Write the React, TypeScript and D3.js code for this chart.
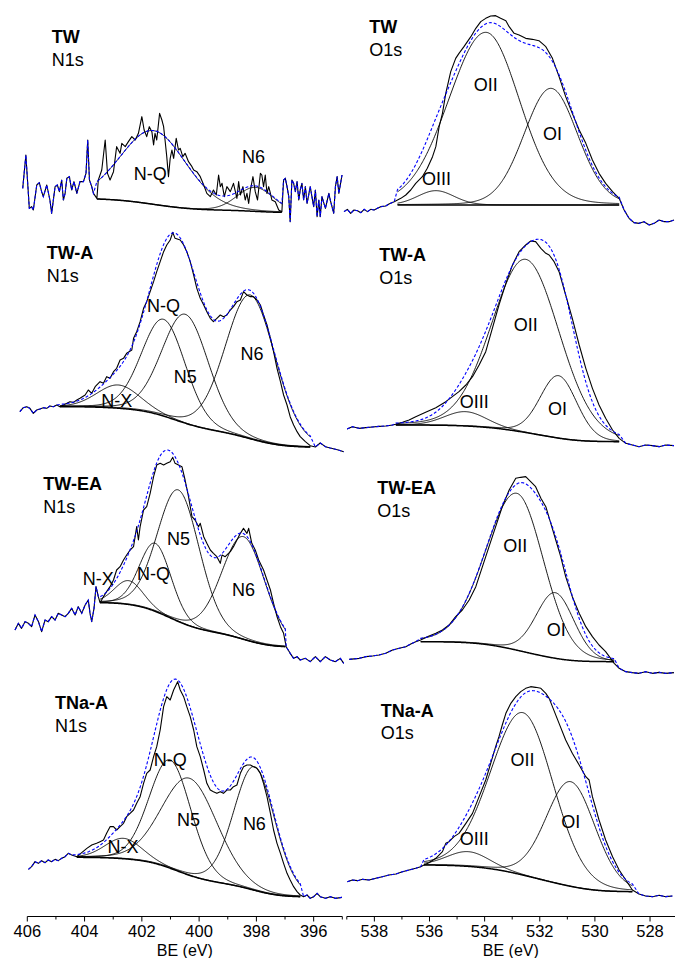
import React from "react";
import * as d3 from "d3";

type Pt = [number, number];
type Peak = { c: number; top: number; w: number; wh?: number };
type Lbl = [string, number, number];

// ---------------- axis ticks ----------------
const nMajorTicks = [406, 404, 402, 400, 398, 396];
const nMinorTicks = [405, 403, 401, 399, 397, 395];
const oMajorTicks = [538, 536, 534, 532, 530, 528];
const oMinorTicks = [539, 537, 535, 533, 531, 529, 527];
const axisTitle = "BE (eV)";

// ---------------- TW N1s ----------------
const twN1sRaw: Pt[] = [
  [406.16, 135], [406.05, 235], [405.93, 75], [405.85, 80], [405.79, 70], [405.67, 145], [405.58, 152], [405.5, 125],
  [405.44, 110], [405.32, 145], [405.21, 100], [405.15, 60], [405.03, 140], [404.95, 145], [404.88, 125], [404.8, 160],
  [404.74, 100], [404.68, 120], [404.62, 165], [404.53, 170], [404.45, 130], [404.37, 155], [404.27, 120], [404.16, 155],
  [404.04, 155], [403.95, 180], [403.89, 280], [403.83, 160], [403.75, 140], [403.69, 120], [403.57, 105], [403.52, 160],
  [403.4, 190], [403.28, 280], [403.2, 180], [403.11, 160], [402.99, 185], [402.88, 260], [402.76, 240], [402.7, 270],
  [402.58, 260], [402.47, 275], [402.35, 290], [402.23, 280], [402.12, 300], [402.0, 350], [401.92, 310], [401.83, 290],
  [401.74, 320], [401.65, 305], [401.59, 265], [401.54, 300], [401.48, 280], [401.38, 360], [401.3, 340], [401.24, 320],
  [401.19, 280], [401.13, 230], [401.07, 170], [401.01, 225], [400.95, 250], [400.89, 225], [400.8, 285], [400.72, 250],
  [400.66, 255], [400.57, 230], [400.49, 240], [400.37, 215], [400.25, 200], [400.19, 190], [400.08, 185], [399.96, 170],
  [399.84, 145], [399.73, 120], [399.61, 110], [399.5, 130], [399.4, 115], [399.32, 175], [399.26, 140], [399.2, 150],
  [399.12, 110], [399.03, 140], [398.91, 125], [398.8, 150], [398.68, 105], [398.62, 155], [398.56, 115], [398.47, 140],
  [398.39, 100], [398.33, 120], [398.27, 90], [398.21, 130], [398.12, 170], [398.04, 125], [397.96, 100], [397.86, 180],
  [397.81, 175], [397.75, 140], [397.69, 175], [397.63, 120], [397.57, 140], [397.51, 120], [397.46, 100], [397.34, 95],
  [397.22, 70], [397.11, 65], [397.05, 160], [396.99, 165], [396.93, 140], [396.87, 110], [396.82, 35], [396.76, 160],
  [396.7, 150], [396.64, 125], [396.58, 155], [396.52, 100], [396.47, 130], [396.41, 150], [396.35, 100], [396.29, 140],
  [396.23, 90], [396.12, 140], [396.0, 80], [395.94, 130], [395.88, 50], [395.82, 100], [395.77, 50], [395.71, 110],
  [395.59, 75], [395.47, 120], [395.42, 100], [395.3, 60], [395.24, 140], [395.18, 170], [395.12, 120], [395.01, 175],
];
const twN1sRegion: Pt = [403.57, 397.11];
const twN1sBg: Pt = [103, 63];
const twN1sPeaks: Peak[] = [
  { c: 401.59, top: 308, w: 2.7 },
  { c: 398.04, top: 138, w: 1.5 },
];
const twN1sLabels: Lbl[] = [["N-Q", 401.71, 180], ["N6", 398.1, 230]];

// ---------------- TW O1s ----------------
const twO1sRaw: Pt[] = [
  [539.1, 65], [538.98, 72], [538.86, 60], [538.74, 70], [538.61, 68], [538.49, 62], [538.37, 72], [538.25, 65],
  [538.13, 72], [538.01, 70], [537.89, 75], [537.77, 80], [537.59, 82], [537.47, 88], [537.28, 95], [537.16, 100],
  [537.04, 105], [536.86, 115], [536.68, 130], [536.5, 150], [536.26, 170], [536.08, 195], [535.89, 230], [535.77, 260],
  [535.65, 320], [535.53, 360], [535.41, 420], [535.23, 485], [535.05, 525], [534.93, 540], [534.75, 560], [534.5, 590],
  [534.32, 615], [534.14, 635], [533.96, 645], [533.78, 652], [533.6, 653], [533.42, 645], [533.23, 638], [533.11, 620],
  [532.93, 600], [532.75, 595], [532.51, 585], [532.27, 582], [532.03, 578], [531.78, 560], [531.54, 525], [531.3, 470],
  [531.06, 410], [530.82, 360], [530.57, 310], [530.33, 270], [530.09, 220], [529.85, 180], [529.61, 150], [529.36, 125],
  [529.12, 105], [528.94, 70], [528.76, 45], [528.58, 32], [528.4, 30], [528.22, 35], [528.03, 25], [527.85, 30],
  [527.67, 40], [527.49, 35], [527.31, 35], [527.13, 40],
];
const twO1sRegion: Pt = [537.16, 529.12];
const twO1sBg: Pt = [85, 85];
const twO1sPeaks: Peak[] = [
  { c: 535.77, top: 128, w: 1.57 },
  { c: 533.96, top: 603, w: 2.9, wh: 3.2 },
  { c: 531.6, top: 435, w: 2.3 },
];
const twO1sLabels: Lbl[] = [["OIII", 535.75, 165], ["OII", 533.96, 445], ["OI", 531.54, 300]];

// ---------------- TW-A N1s ----------------
const twaN1sRaw: Pt[] = [
  [406.26, 140], [406.14, 152], [406.02, 155], [405.91, 150], [405.79, 135], [405.67, 145], [405.56, 148], [405.44, 152],
  [405.32, 150], [405.21, 157], [405.09, 155], [404.97, 160], [404.86, 155], [404.74, 160], [404.62, 165], [404.51, 170],
  [404.39, 168], [404.27, 175], [404.16, 180], [403.98, 190], [403.87, 205], [403.75, 195], [403.63, 215], [403.46, 230],
  [403.34, 225], [403.23, 245], [403.11, 240], [402.99, 260], [402.88, 270], [402.76, 295], [402.64, 300], [402.53, 315],
  [402.35, 325], [402.29, 360], [402.18, 380], [402.06, 410], [401.94, 450], [401.83, 470], [401.71, 500], [401.59, 530],
  [401.48, 560], [401.36, 590], [401.24, 620], [401.13, 640], [401.01, 655], [400.92, 678], [400.84, 660], [400.66, 655],
  [400.54, 640], [400.43, 620], [400.31, 590], [400.19, 550], [400.08, 510], [399.96, 480], [399.84, 460], [399.73, 440],
  [399.61, 420], [399.5, 410], [399.38, 420], [399.26, 430], [399.15, 425], [399.03, 430], [398.91, 445], [398.8, 455],
  [398.68, 470], [398.56, 475], [398.45, 500], [398.33, 490], [398.21, 485], [398.1, 485], [397.98, 475], [397.86, 460],
  [397.75, 430], [397.63, 400], [397.51, 360], [397.4, 320], [397.28, 270], [397.16, 230], [397.05, 190], [396.93, 160],
  [396.82, 125], [396.7, 100], [396.58, 80], [396.47, 65], [396.29, 50], [396.12, 38], [395.94, 34], [395.77, 46],
  [395.59, 35], [395.42, 31], [395.14, 25], [394.95, 20],
];
const twaN1sRegion: Pt = [404.86, 396.12];
const twaN1sBg: Pt = [155, 34];
const twaN1sPeaks: Peak[] = [
  { c: 402.82, top: 220, w: 1.75 },
  { c: 401.24, top: 417, w: 1.8 },
  { c: 400.48, top: 432, w: 1.92 },
  { c: 398.21, top: 490, w: 2.06 },
];
const twaN1sLabels: Lbl[] = [["N-X", 402.88, 173], ["N-Q", 401.24, 457], ["N5", 400.48, 245], ["N6", 398.15, 315]];

// ---------------- TW-A O1s ----------------
const twaO1sRaw: Pt[] = [
  [538.99, 88], [538.8, 95], [538.55, 90], [538.31, 92], [538.07, 94], [537.83, 96], [537.59, 97], [537.34, 100],
  [537.22, 102], [536.98, 108], [536.74, 115], [536.5, 125], [536.14, 138], [535.77, 152], [535.41, 170], [535.17, 185],
  [534.93, 200], [534.68, 220], [534.44, 245], [534.2, 280], [533.96, 320], [533.72, 390], [533.48, 460], [533.23, 525],
  [532.99, 580], [532.75, 620], [532.51, 640], [532.33, 652], [532.15, 650], [531.96, 630], [531.78, 615], [531.66, 610],
  [531.48, 590], [531.3, 560], [531.18, 525], [531.06, 490], [530.82, 420], [530.57, 340], [530.33, 270], [530.09, 210],
  [529.85, 160], [529.61, 120], [529.36, 85], [529.12, 60], [528.88, 45], [528.64, 40], [528.4, 35], [528.16, 40],
  [527.91, 38], [527.67, 35], [527.43, 40], [527.13, 38],
];
const twaO1sRegion: Pt = [537.22, 529.12];
const twaO1sBg: Pt = [100, 50];
const twaO1sPeaks: Peak[] = [
  { c: 534.69, top: 140, w: 1.8 },
  { c: 532.51, top: 597, w: 2.9 },
  { c: 531.32, top: 248, w: 1.57 },
];
const twaO1sLabels: Lbl[] = [["OIII", 534.38, 170], ["OII", 532.51, 400], ["OI", 531.36, 150]];

// ---------------- TW-EA N1s ----------------
const tweaN1sRaw: Pt[] = [
  [406.43, 130], [406.31, 150], [406.2, 135], [406.08, 155], [405.96, 150], [405.85, 140], [405.73, 175], [405.61, 155],
  [405.5, 125], [405.38, 160], [405.27, 155], [405.15, 170], [405.03, 160], [404.92, 180], [404.8, 175], [404.68, 170],
  [404.57, 180], [404.45, 195], [404.33, 175], [404.22, 200], [404.1, 180], [403.98, 205], [403.87, 220], [403.81, 180],
  [403.75, 155], [403.67, 195], [403.6, 260], [403.52, 230], [403.46, 212], [403.34, 230], [403.23, 245], [403.11, 260],
  [402.99, 280], [402.88, 310], [402.76, 320], [402.64, 340], [402.53, 355], [402.41, 370], [402.29, 380], [402.18, 440],
  [402.12, 400], [402.06, 440], [401.94, 490], [401.83, 500], [401.71, 540], [401.59, 590], [401.48, 625], [401.36, 630],
  [401.24, 625], [401.13, 630], [401.01, 635], [400.92, 648], [400.84, 630], [400.72, 625], [400.6, 620], [400.49, 580],
  [400.37, 530], [400.25, 470], [400.14, 460], [400.02, 440], [399.96, 450], [399.84, 410], [399.73, 390], [399.61, 370],
  [399.5, 360], [399.38, 350], [399.26, 330], [399.2, 355], [399.09, 350], [398.91, 365], [398.8, 380], [398.68, 400],
  [398.56, 420], [398.45, 435], [398.33, 420], [398.27, 435], [398.16, 390], [398.04, 370], [397.92, 340], [397.75, 310],
  [397.63, 280], [397.51, 250], [397.4, 210], [397.28, 170], [397.16, 140], [397.05, 120], [396.96, 80], [396.82, 60],
  [396.7, 45], [396.58, 50], [396.47, 40], [396.29, 45], [396.12, 35], [395.94, 50], [395.77, 35], [395.59, 50],
  [395.42, 40], [395.24, 35], [395.07, 45], [394.95, 30],
];
const tweaN1sRegion: Pt = [403.46, 396.99];
const tweaN1sBg: Pt = [212, 80];
const tweaN1sPeaks: Peak[] = [
  { c: 402.46, top: 278, w: 1.17 },
  { c: 401.53, top: 390, w: 1.3 },
  { c: 400.72, top: 550, w: 1.73 },
  { c: 398.45, top: 410, w: 1.78 },
];
const tweaN1sLabels: Lbl[] = [["N-X", 403.52, 285], ["N-Q", 401.59, 300], ["N5", 400.72, 403], ["N6", 398.45, 252]];

// ---------------- TW-EA O1s ----------------
const tweaO1sRaw: Pt[] = [
  [538.91, 42], [538.55, 45], [538.31, 50], [538.07, 52], [537.83, 55], [537.59, 60], [537.34, 70], [537.1, 75],
  [536.86, 80], [536.68, 88], [536.5, 95], [536.32, 100], [536.08, 110], [535.77, 120], [535.53, 130], [535.29, 145],
  [535.05, 170], [534.81, 190], [534.56, 220], [534.32, 260], [534.08, 320], [533.84, 380], [533.6, 440], [533.36, 500],
  [533.11, 550], [532.87, 585], [532.69, 588], [532.51, 590], [532.33, 575], [532.15, 560], [531.96, 525], [531.78, 500],
  [531.6, 450], [531.42, 400], [531.24, 350], [531.06, 290], [530.82, 230], [530.57, 180], [530.33, 140], [530.09, 110],
  [529.85, 85], [529.61, 65], [529.43, 45], [529.3, 30], [529.12, 15], [528.88, 5], [528.64, 2], [528.4, 0],
  [528.16, 5], [527.91, 0], [527.67, 3], [527.43, 0], [527.13, 2],
];
const tweaO1sRegion: Pt = [536.32, 529.3];
const tweaO1sBg: Pt = [95, 35];
const tweaO1sPeaks: Peak[] = [
  { c: 532.83, top: 540, w: 2.3, wh: 2.65 },
  { c: 531.44, top: 242, w: 1.62 },
];
const tweaO1sLabels: Lbl[] = [["OII", 532.89, 383], ["OI", 531.4, 132]];

// ---------------- TNa-A N1s ----------------
const tnaN1sRaw: Pt[] = [
  [405.96, 102], [405.85, 110], [405.73, 125], [405.61, 120], [405.5, 128], [405.38, 122], [405.27, 130], [405.15, 125],
  [405.03, 132], [404.92, 128], [404.8, 135], [404.68, 140], [404.57, 150], [404.45, 145], [404.27, 140], [404.1, 152],
  [403.92, 165], [403.75, 175], [403.58, 180], [403.46, 185], [403.34, 190], [403.23, 210], [403.11, 230], [402.99, 230],
  [402.88, 220], [402.76, 230], [402.64, 240], [402.53, 260], [402.41, 270], [402.29, 280], [402.18, 300], [402.06, 320],
  [401.94, 360], [401.83, 390], [401.71, 400], [401.59, 440], [401.48, 470], [401.36, 520], [401.24, 590], [401.13, 620],
  [401.01, 610], [400.89, 640], [400.75, 665], [400.66, 640], [400.54, 620], [400.43, 590], [400.31, 560], [400.19, 520],
  [400.08, 470], [399.96, 440], [399.84, 400], [399.73, 360], [399.61, 340], [399.5, 335], [399.38, 330], [399.26, 335],
  [399.15, 330], [399.03, 340], [398.91, 340], [398.8, 350], [398.68, 355], [398.56, 390], [398.45, 410], [398.33, 415],
  [398.21, 415], [398.1, 410], [397.98, 405], [397.86, 390], [397.75, 360], [397.63, 320], [397.51, 270], [397.4, 220],
  [397.28, 180], [397.16, 150], [397.05, 120], [396.93, 90], [396.82, 70], [396.7, 50], [396.58, 35], [396.47, 25],
  [396.35, 20], [396.23, 25], [396.12, 15], [396.0, 20], [395.88, 30], [395.77, 20], [395.59, 15], [395.42, 20],
  [395.24, 15], [395.01, 18],
];
const tnaN1sRegion: Pt = [404.27, 396.47];
const tnaN1sBg: Pt = [138, 20];
const tnaN1sPeaks: Peak[] = [
  { c: 402.64, top: 195, w: 1.5 },
  { c: 401.01, top: 430, w: 1.72 },
  { c: 400.33, top: 375, w: 2.27 },
  { c: 398.07, top: 410, w: 1.69 },
];
const tnaN1sLabels: Lbl[] = [["N-X", 402.66, 170], ["N-Q", 401.01, 432], ["N5", 400.37, 250], ["N6", 398.07, 240]];

// ---------------- TNa-A O1s ----------------
const tnaO1sRaw: Pt[] = [
  [538.98, 65], [538.8, 70], [538.61, 68], [538.43, 72], [538.19, 70], [537.95, 75], [537.71, 80], [537.47, 85],
  [537.22, 88], [536.98, 95], [536.74, 100], [536.5, 105], [536.32, 110], [536.2, 115], [536.02, 122], [535.77, 135],
  [535.53, 155], [535.41, 180], [535.29, 185], [535.11, 200], [534.93, 210], [534.68, 240], [534.44, 270], [534.2, 320],
  [533.96, 370], [533.78, 420], [533.6, 470], [533.48, 500], [533.36, 535], [533.23, 570], [533.05, 600], [532.87, 620],
  [532.69, 635], [532.51, 645], [532.33, 650], [532.15, 648], [531.96, 645], [531.78, 630], [531.66, 615], [531.54, 590],
  [531.3, 540], [531.06, 490], [530.82, 450], [530.57, 415], [530.33, 380], [530.21, 370], [530.09, 320], [529.85, 250],
  [529.61, 190], [529.36, 140], [529.12, 100], [528.88, 70], [528.64, 40], [528.4, 28], [528.16, 22], [527.91, 20],
  [527.67, 24], [527.43, 20], [527.19, 22],
];
const tnaO1sRegion: Pt = [536.2, 528.64];
const tnaO1sBg: Pt = [115, 35];
const tnaO1sPeaks: Peak[] = [
  { c: 534.59, top: 155, w: 1.8 },
  { c: 532.61, top: 572, w: 2.6, wh: 2.75 },
  { c: 530.88, top: 365, w: 2.1 },
];
const tnaO1sLabels: Lbl[] = [["OIII", 534.38, 195], ["OII", 532.63, 430], ["OI", 530.88, 245]];

// ---------------- layout ----------------
const W = 675;
const H = 958;
const AXIS_Y = 916.5;
const ROW_TOP = [0, 225, 440, 670];
const FONT = "'Liberation Sans', Arial, Helvetica, sans-serif";
const LORENTZ_MIX = 0.1;

const xN = d3.scaleLinear().domain([406, 395]).range([27.3, 342.3]);
const xO = d3.scaleLinear().domain([539, 527]).range([346.8, 677.6]);

type PanelDef = {
  row: number;
  side: "N" | "O";
  sample: string;
  core: string;
  raw: Pt[];
  region: Pt;
  bg: Pt;
  peaks: Peak[];
  labels: Lbl[];
  title: [number, number];
};

const panels: PanelDef[] = [
  { row: 0, side: "N", sample: "TW", core: "N1s", raw: twN1sRaw, region: twN1sRegion, bg: twN1sBg, peaks: twN1sPeaks, labels: twN1sLabels, title: [51.7, 43.3] },
  { row: 0, side: "O", sample: "TW", core: "O1s", raw: twO1sRaw, region: twO1sRegion, bg: twO1sBg, peaks: twO1sPeaks, labels: twO1sLabels, title: [369.3, 33.3] },
  { row: 1, side: "N", sample: "TW-A", core: "N1s", raw: twaN1sRaw, region: twaN1sRegion, bg: twaN1sBg, peaks: twaN1sPeaks, labels: twaN1sLabels, title: [46.7, 259] },
  { row: 1, side: "O", sample: "TW-A", core: "O1s", raw: twaO1sRaw, region: twaO1sRegion, bg: twaO1sBg, peaks: twaO1sPeaks, labels: twaO1sLabels, title: [379.3, 261] },
  { row: 2, side: "N", sample: "TW-EA", core: "N1s", raw: tweaN1sRaw, region: tweaN1sRegion, bg: tweaN1sBg, peaks: tweaN1sPeaks, labels: tweaN1sLabels, title: [43.3, 490] },
  { row: 2, side: "O", sample: "TW-EA", core: "O1s", raw: tweaO1sRaw, region: tweaO1sRegion, bg: tweaO1sBg, peaks: tweaO1sPeaks, labels: tweaO1sLabels, title: [377.3, 494] },
  { row: 3, side: "N", sample: "TNa-A", core: "N1s", raw: tnaN1sRaw, region: tnaN1sRegion, bg: tnaN1sBg, peaks: tnaN1sPeaks, labels: tnaN1sLabels, title: [55, 709] },
  { row: 3, side: "O", sample: "TNa-A", core: "O1s", raw: tnaO1sRaw, region: tnaO1sRegion, bg: tnaO1sBg, peaks: tnaO1sPeaks, labels: tnaO1sLabels, title: [380.7, 716.7] },
];

function pv(E: number, pk: Peak) {
  const w = E > pk.c && pk.wh ? pk.wh : pk.w;
  const x = (E - pk.c) / w;
  return (1 - LORENTZ_MIX) * Math.exp(-4 * Math.LN2 * x * x) + LORENTZ_MIX / (1 + 4 * x * x);
}

function fit(p: PanelDef) {
  const [eHi, eLo] = p.region;
  const [iHi, iLo] = p.bg;
  const n = 300;
  const grid = d3.range(n + 1).map((k) => eHi - ((eHi - eLo) * k) / n);
  let bg = grid.map((E) => iLo + ((iHi - iLo) * (E - eLo)) / (eHi - eLo));
  let hs = p.peaks.map((pk) => pk.top);
  const bgAt = (E: number) => {
    const t = ((eHi - E) / (eHi - eLo)) * n;
    const k = Math.max(0, Math.min(n - 1, Math.floor(t)));
    const f = t - k;
    return bg[k] * (1 - f) + bg[k + 1] * f;
  };
  for (let it = 0; it < 20; it++) {
    hs = p.peaks.map((pk) => Math.max(0, pk.top - bgAt(pk.c)));
    const sig = grid.map((E) => p.peaks.reduce((s, pk, j) => s + hs[j] * pv(E, pk), 0));
    const cum = new Array(n + 1).fill(0);
    for (let k = n - 1; k >= 0; k--) cum[k] = cum[k + 1] + (sig[k] + sig[k + 1]) / 2;
    const tot = cum[0] || 1;
    bg = grid.map((_, k) => iLo + ((iHi - iLo) * cum[k]) / tot);
  }
  const comps = p.peaks.map((pk, j) => grid.map((E, k) => [E, bg[k] + hs[j] * pv(E, pk)] as Pt));
  const env = grid.map((E, k) => [E, bg[k] + p.peaks.reduce((s, pk, j) => s + hs[j] * pv(E, pk), 0)] as Pt);
  const bgPts = grid.map((E, k) => [E, bg[k]] as Pt);
  const envFull: Pt[] = [
    ...p.raw.filter((d) => d[0] > eHi),
    ...env,
    ...p.raw.filter((d) => d[0] < eLo),
  ];
  return { comps, bgPts, envFull };
}

function Panel({ p }: { p: PanelDef }) {
  const xs = p.side === "N" ? xN : xO;
  const top = ROW_TOP[p.row];
  const ys = d3.scaleLinear().domain([0, 700]).range([top + 700 / 3, top]);
  const line = d3
    .line<Pt>()
    .x((d) => xs(d[0]))
    .y((d) => ys(d[1]));
  const { comps, bgPts, envFull } = fit(p);
  return (
    <g>
      {comps.map((c, i) => (
        <path key={i} d={line(c) || ""} fill="none" stroke="#000" strokeWidth={0.9} />
      ))}
      <path d={line(bgPts) || ""} fill="none" stroke="#000" strokeWidth={1.5} />
      <path d={line(p.raw) || ""} fill="none" stroke="#000" strokeWidth={1.1} strokeLinejoin="round" />
      <path d={line(envFull) || ""} fill="none" stroke="#0000ff" strokeWidth={1.1} strokeDasharray="3,2" />
      {p.labels.map(([t, be, v], i) => (
        <text key={i} x={xs(be)} y={ys(v)} dy="0.36em" textAnchor="middle" fontSize={18} fill="#000">
          {t}
        </text>
      ))}
      <text x={p.title[0]} y={p.title[1]} fontSize={18} fontWeight="bold" fill="#000">
        {p.sample}
      </text>
      <text x={p.title[0]} y={p.title[1] + 22.7} fontSize={18} fill="#000">
        {p.core}
      </text>
    </g>
  );
}

function Axis({ xs, major, minor, mid }: { xs: d3.ScaleLinear<number, number>; major: number[]; minor: number[]; mid: number }) {
  const [r0, r1] = xs.range();
  return (
    <g>
      <line x1={r0} x2={Math.min(r1, W)} y1={AXIS_Y} y2={AXIS_Y} stroke="#000" strokeWidth={1} />
      {major.map((t) => (
        <g key={"M" + t}>
          <line x1={xs(t)} x2={xs(t)} y1={AXIS_Y} y2={AXIS_Y + 5} stroke="#000" strokeWidth={1} />
          <text x={xs(t)} y={AXIS_Y + 20.5} textAnchor="middle" fontSize={16.5} fill="#000">
            {t}
          </text>
        </g>
      ))}
      {minor.map((t) => (
        <line key={"m" + t} x1={xs(t)} x2={xs(t)} y1={AXIS_Y} y2={AXIS_Y + 3} stroke="#000" strokeWidth={1} />
      ))}
      <text x={xs(mid)} y={AXIS_Y + 39} textAnchor="middle" fontSize={16} fill="#000">
        {axisTitle}
      </text>
    </g>
  );
}

export default function App() {
  return (
    <svg
      width={W}
      height={H}
      viewBox={`0 0 ${W} ${H}`}
      style={{ position: "absolute", left: 0, top: 0, background: "#fff" }}
      fontFamily={FONT}
    >
      <rect width={W} height={H} fill="#fff" />
      {panels.map((p, i) => (
        <Panel key={i} p={p} />
      ))}
      <Axis xs={xN} major={nMajorTicks} minor={nMinorTicks} mid={400.5} />
      <Axis xs={xO} major={oMajorTicks} minor={oMinorTicks} mid={533.05} />
    </svg>
  );
}
